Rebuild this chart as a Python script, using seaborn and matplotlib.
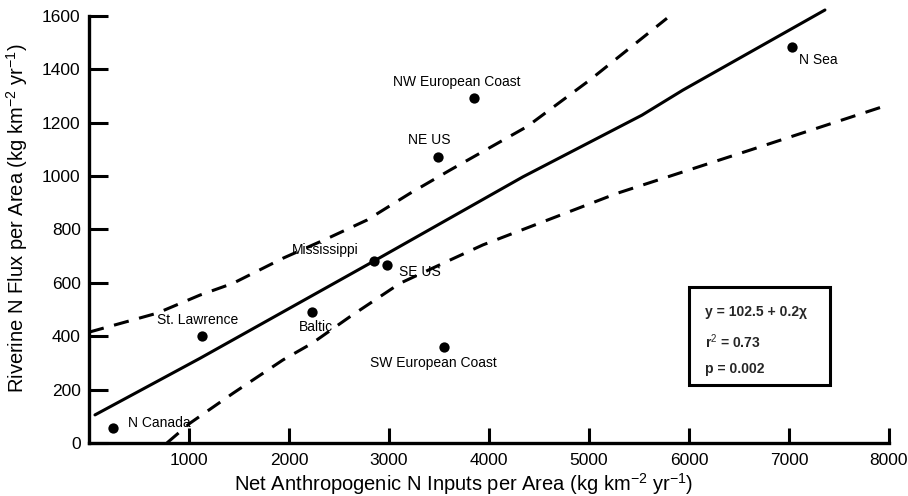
import matplotlib
matplotlib.use("Agg")
import matplotlib.pyplot as plt
import seaborn as sns
import pandas as pd
from matplotlib.patches import Rectangle

# ---- data ----
regions = ["N Canada", "St. Lawrence", "Baltic", "Mississippi", "SE US",
           "SW European Coast", "NE US", "NW European Coast", "N Sea"]
n_inputs = [240, 1130, 2230, 2850, 2985, 3555, 3490, 3850, 7035]
n_flux = [55, 400, 490, 680, 667, 361, 1072, 1291, 1484]

fit_x = [60, 1110, 2810, 4340, 5530, 5940, 7360]
fit_y = [105, 317, 673, 997, 1228, 1322, 1622]

upper_x = [0, 680, 1110, 1440, 1940, 2390, 2780, 3210, 3610, 4380, 5010, 5780]
upper_y = [415, 486, 554, 598, 692, 767, 835, 935, 1022, 1185, 1360, 1591]

lower_x = [780, 1010, 1440, 1940, 2230, 2610, 3110, 3610, 3940, 5280, 6610, 7940]
lower_y = [0, 74, 186, 311, 373, 473, 598, 685, 742, 935, 1097, 1260]

x_ticks = [1000, 2000, 3000, 4000, 5000, 6000, 7000, 8000]
y_ticks = [0, 200, 400, 600, 800, 1000, 1200, 1400, 1600]

stats_lines = ["y = 102.5 + 0.2\u03c7", "r$^{2}$ = 0.73", "p = 0.002"]

# label positions (data coords) for point names
label_x = [390, 680, 2100, 2030, 3100, 2810, 3190, 3040, 7100]
label_y = [75, 460, 435, 723, 640, 300, 1135, 1352, 1434]

sns.set_style("ticks")
plt.rcParams['font.family'] = ['Liberation Sans', 'DejaVu Sans']
plt.rcParams['mathtext.fontset'] = 'custom'
plt.rcParams['mathtext.rm'] = 'Liberation Sans'
plt.rcParams['mathtext.it'] = 'Liberation Sans'
plt.rcParams['mathtext.bf'] = 'Liberation Sans:bold'

fig = plt.figure(figsize=(9.08, 4.96), dpi=100)
ax = fig.add_axes([0.098, 0.107, 0.881, 0.861])

df = pd.DataFrame({"x": n_inputs, "y": n_flux, "region": regions})
sns.scatterplot(data=df, x="x", y="y", ax=ax, color="black", s=55,
                edgecolor="black", linewidth=0, zorder=5)

sns.lineplot(x=fit_x, y=fit_y, ax=ax, color="black", linewidth=2.2,
             sort=False, estimator=None)
ax.lines[-1].set_clip_on(False)
sns.lineplot(x=upper_x, y=upper_y, ax=ax, color="black", linewidth=2.2,
             sort=False, estimator=None)
ax.lines[-1].set_dashes([5, 3.5])
sns.lineplot(x=lower_x, y=lower_y, ax=ax, color="black", linewidth=2.2,
             sort=False, estimator=None)
ax.lines[-1].set_dashes([5, 3.5])

for name, lx, ly in zip(regions, label_x, label_y):
    ax.text(lx, ly, name, fontsize=10, va="center", ha="left", color="black")

ax.set_xlim(0, 8000)
ax.set_ylim(0, 1600)
ax.set_xticks(x_ticks)
ax.set_yticks(y_ticks)
ax.tick_params(axis="y", direction="in", length=14, width=2.2, labelsize=12.5,
               pad=6, colors="black")
ax.tick_params(axis="x", direction="in", length=11, width=2.2, labelsize=12.5,
               pad=7, colors="black")
for s in ["top", "right"]:
    ax.spines[s].set_visible(False)
for s in ["left", "bottom"]:
    ax.spines[s].set_linewidth(2.4)
    ax.spines[s].set_color("black")

ax.set_xlabel("Net Anthropogenic N Inputs per Area (kg km$^{-2}$ yr$^{-1}$)",
              fontsize=14.5, color="black")
ax.set_ylabel("Riverine N Flux per Area (kg km$^{-2}$ yr$^{-1}$)",
              fontsize=14.5, color="black")
ax.xaxis.set_label_coords(0.468, -0.066)
ax.yaxis.set_label_coords(-0.074, 0.527)

ax.add_patch(Rectangle((0.75, 0.136), 0.176, 0.229, transform=ax.transAxes,
                       fill=False, edgecolor="black", linewidth=2.2, zorder=6))
for txt, ty in zip(stats_lines, [0.307, 0.237, 0.173]):
    ax.text(0.77, ty, txt, transform=ax.transAxes, fontsize=10,
            va="center", ha="left", fontweight="bold")

if ax.get_legend() is not None:
    ax.get_legend().remove()

fig.savefig("out.png", dpi=100)
